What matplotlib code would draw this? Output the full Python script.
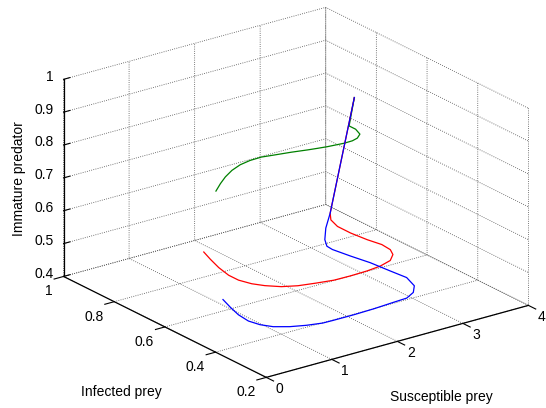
import matplotlib
matplotlib.use('Agg')
import matplotlib.pyplot as plt
from mpl_toolkits.mplot3d import proj3d

# trajectories: susceptible prey, infected prey, immature predator
green_s = [2.500, 2.420, 2.504, 2.546, 2.507, 2.470, 2.404, 2.272, 2.189, 2.098, 1.955, 1.806, 1.689, 1.562, 1.439, 1.305, 1.170, 1.049, 0.914]
green_i = [0.499, 0.499, 0.495, 0.489, 0.489, 0.499, 0.515, 0.546, 0.563, 0.579, 0.607, 0.633, 0.656, 0.668, 0.675, 0.673, 0.664, 0.652, 0.635]
green_p = [1.0, 0.918, 0.905, 0.89, 0.88, 0.87, 0.86, 0.845, 0.838, 0.832, 0.822, 0.812, 0.803, 0.795, 0.786, 0.777, 0.768, 0.759, 0.75]

red_s = [2.500, 2.158, 2.111, 2.092, 2.130, 2.194, 2.274, 2.283, 2.238, 2.120, 1.946, 1.752, 1.531, 1.329, 1.137, 0.947, 0.798, 0.682, 0.610, 0.571, 0.590, 0.663, 0.764, 0.856]
red_i = [0.499, 0.506, 0.491, 0.460, 0.418, 0.369, 0.332, 0.301, 0.279, 0.259, 0.253, 0.255, 0.263, 0.276, 0.298, 0.320, 0.347, 0.382, 0.415, 0.457, 0.501, 0.559, 0.618, 0.668]
red_p = [1.0, 0.664, 0.652, 0.645, 0.639, 0.634, 0.629, 0.625, 0.621, 0.617, 0.612, 0.607, 0.601, 0.594, 0.587, 0.581, 0.576, 0.572, 0.569, 0.566, 0.563, 0.56, 0.557, 0.555]

blue_s = [2.500, 2.158, 2.107, 2.096, 2.097, 2.138, 2.265, 2.399, 2.510, 2.606, 2.584, 2.495, 2.364, 2.190, 1.920, 1.661, 1.378, 1.251, 1.077, 0.914, 0.771, 0.700, 0.678, 0.723, 0.812, 0.917]
blue_i = [0.499, 0.506, 0.510, 0.511, 0.503, 0.492, 0.453, 0.410, 0.360, 0.320, 0.284, 0.265, 0.257, 0.264, 0.272, 0.283, 0.295, 0.301, 0.321, 0.344, 0.372, 0.406, 0.446, 0.497, 0.552, 0.608]
blue_p = [1.0, 0.664, 0.62, 0.585, 0.568, 0.56, 0.548, 0.537, 0.525, 0.515, 0.505, 0.497, 0.49, 0.484, 0.476, 0.468, 0.461, 0.458, 0.453, 0.449, 0.446, 0.443, 0.44, 0.437, 0.434, 0.43]

x_ticks = [0, 1, 2, 3, 4]
y_ticks = [0.2, 0.4, 0.6, 0.8, 1]
z_ticks = [0.4, 0.5, 0.6, 0.7, 0.8, 0.9, 1]

plt.rcParams['font.family'] = ['Liberation Sans', 'DejaVu Sans']
plt.rcParams['grid.linestyle'] = ':'
plt.rcParams['grid.color'] = '0.3'
plt.rcParams['grid.linewidth'] = 0.6

fig = plt.figure(figsize=(5.46, 4.08), dpi=100)
ax = fig.add_axes([0.032, 0.015, 1, 1], projection='3d', proj_type='ortho')
ax.view_init(elev=21.7, azim=-126.6)
ax.set_box_aspect((330, 343.6, 214.4), zoom=1.23)

ax.plot(green_s, green_i, green_p, color=(0, 0.5, 0), lw=0.9)
ax.plot(red_s, red_i, red_p, color='r', lw=0.9)
ax.plot(blue_s, blue_i, blue_p, color='b', lw=0.9)

ax.set_xlim(0, 4)
ax.set_ylim(0.2, 1)
ax.set_zlim(0.4, 1)
ax.set_xticks(x_ticks)
ax.set_yticks(y_ticks)
ax.set_zticks(z_ticks)
for a in (ax.xaxis, ax.yaxis, ax.zaxis):
    a.set_pane_color((1, 1, 1, 0))
    a.pane.set_edgecolor((1, 1, 1, 0))
    a.line.set_color('k')
    a.line.set_linewidth(0.9)
    a.set_tick_params(label1On=False, label2On=False)
    a._axinfo['tick']['linewidth'] = {True: 0.8, False: 0.5}
    a._axinfo['tick']['color'] = 'k'
for a in (ax.xaxis, ax.yaxis):
    a._axinfo['tick']['inward_factor'] = 0.45
    a._axinfo['tick']['outward_factor'] = 0.0
ax.zaxis._axinfo['tick']['inward_factor'] = 0.0
ax.zaxis._axinfo['tick']['outward_factor'] = 0.3

# tick labels sit like MATLAB's: put them next to the projected tick positions
fig.canvas.draw()
def to_px(x, y, z):
    x2, y2, _ = proj3d.proj_transform(x, y, z, ax.get_proj())
    return ax.transData.transform((x2, y2))

for t in x_ticks:
    px, py = to_px(t, 0.147, 0.384)
    fig.text(px, py, f'{t:g}', ha='center', va='center', fontsize=10, transform=None)
for t in y_ticks:
    px, py = to_px(-0.166, t, 0.364)
    fig.text(px, py, f'{t:g}', ha='right', va='center', fontsize=10, transform=None)
for t in z_ticks:
    px, py = to_px(-0.097, 1.014, t + 0.008)
    fig.text(px, py, f'{t:g}', ha='right', va='center', fontsize=10, transform=None)

fig.text(19, 408 - 179, 'Immature predator', rotation=90, ha='center', va='center',
         fontsize=10, transform=None)
fig.text(121, 408 - 392, 'Infected prey', ha='center', va='center', fontsize=10, transform=None)
fig.text(441, 408 - 397, 'Susceptible prey', ha='center', va='center', fontsize=10, transform=None)

fig.savefig('out.png', dpi=100)
